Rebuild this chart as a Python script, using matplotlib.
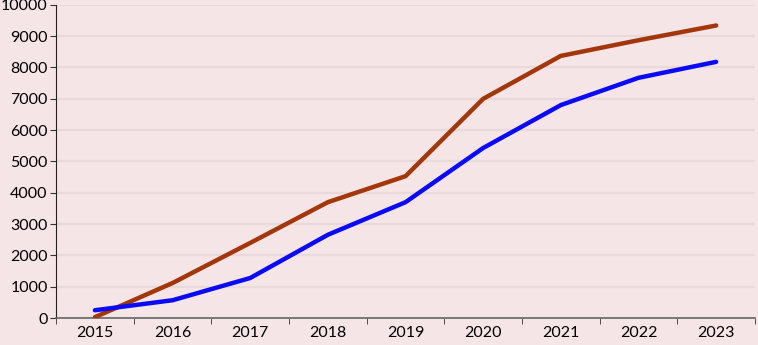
import matplotlib
matplotlib.use("Agg")
import matplotlib.pyplot as plt
import numpy as np

# data
years = ["2015", "2016", "2017", "2018", "2019", "2020", "2021", "2022", "2023"]
brown_vals = [30, 1120, 2400, 3700, 4530, 7000, 8370, 8870, 9340]
blue_vals = [250, 570, 1280, 2660, 3700, 5430, 6800, 7670, 8180]

bg = "#f6e5e6"
plt.rcParams["font.family"] = ["Lato", "DejaVu Sans"]

fig = plt.figure(figsize=(7.58, 3.45), dpi=100, facecolor=bg)
ax = fig.add_axes([0.074, 0.078, 0.922, 0.908])
ax.set_facecolor(bg)

x = np.arange(len(years))
ax.plot(x, brown_vals, color="#a3360b", lw=3.2, solid_capstyle="round", zorder=3)
ax.plot(x, blue_vals, color="#0a0af5", lw=3.2, solid_capstyle="round", zorder=4)

ax.set_xlim(-0.5, len(years) - 0.5)
ax.set_ylim(0, 10000)
ax.set_yticks(np.arange(0, 10001, 1000))
ax.yaxis.grid(True, color="#e8dada", lw=1.6)
ax.set_axisbelow(True)

# category labels centred, tick marks between categories
ax.set_xticks(x)
ax.set_xticklabels(years)
ax.tick_params(axis="x", length=0, pad=6, labelsize=11.5)
ax.set_xticks(np.arange(-0.5, len(years)), minor=True)
ax.tick_params(axis="x", which="minor", length=4, direction="out", color="#333333")
ax.tick_params(axis="y", length=4, direction="out", labelsize=11.5, pad=2, color="#333333")

for s in ["top", "right"]:
    ax.spines[s].set_visible(False)
ax.spines["left"].set_color("#222222")
ax.spines["bottom"].set_color("#666666")
ax.spines["bottom"].set_linewidth(1.2)

fig.savefig("out.png", dpi=100, facecolor=bg)
